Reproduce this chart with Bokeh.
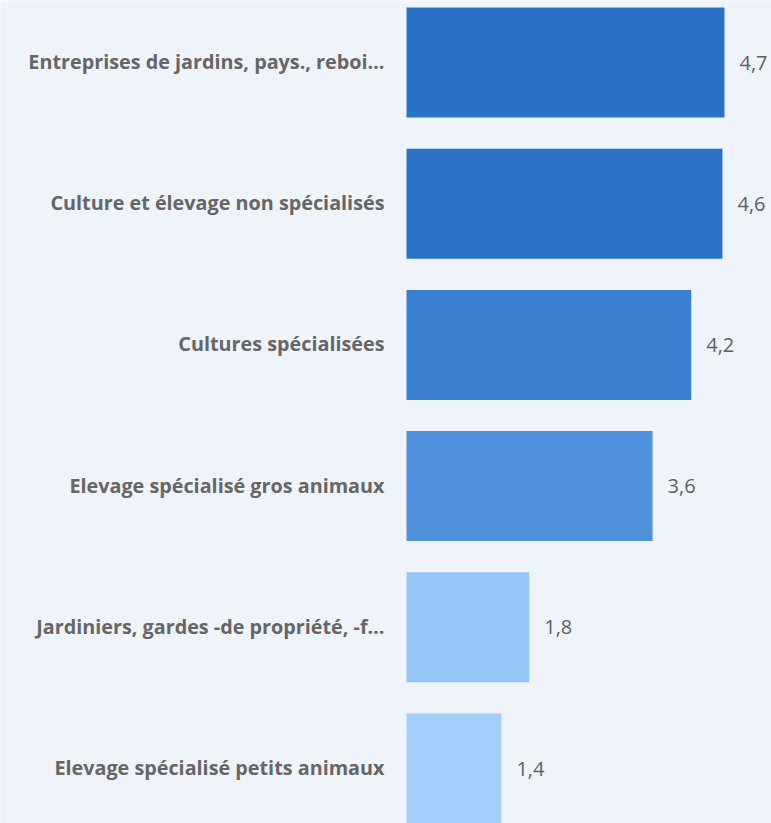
from bokeh.plotting import figure
from bokeh.models import ColumnDataSource, Range1d
from bokeh.core.properties import value
from bokeh.embed import file_html
from bokeh.resources import INLINE

categories = [
    "Entreprises de jardins, pays., reboi…",
    "Culture et élevage non spécialisés",
    "Cultures spécialisées",
    "Elevage spécialisé gros animaux",
    "Jardiniers, gardes -de propriété, -f…",
    "Elevage spécialisé petits animaux",
]
values = [4.69, 4.66, 4.2, 3.63, 1.81, 1.4]
value_labels = ["4,7", "4,6", "4,2", "3,6", "1,8", "1,4"]
colors = ["#2A72C8", "#2B73C9", "#3B80D0", "#4F90DB", "#93C5F6", "#A2D0FD"]

BG = "#EEF4FA"
W, H = 771, 823
PX_PER_UNIT = 67.8
ZERO_X = 406          # frame px of value 0
PITCH = 141.2
FIRST_Y = 62          # frame px of first category center

idx = list(range(len(categories)))
src = ColumnDataSource(dict(y=idx, v=values, c=colors, cat=categories,
                            lab=value_labels, zero=[0] * len(idx)))

x0 = -ZERO_X / PX_PER_UNIT
x1 = (W - ZERO_X) / PX_PER_UNIT
y_top = -FIRST_Y / PITCH
y_bot = (H - FIRST_Y) / PITCH

p = figure(width=W, height=H, output_backend="svg", toolbar_location=None,
           x_range=Range1d(x0, x1), y_range=Range1d(y_bot, y_top),
           min_border=0, min_border_left=0, min_border_right=0,
           min_border_top=0, min_border_bottom=0)
p.axis.visible = False
p.grid.visible = False
p.outline_line_color = None
p.background_fill_color = BG
p.border_fill_color = BG

p.hbar(y="y", left=0, right="v", height=110 / PITCH, fill_color="c",
       line_color=None, source=src)

p.text(x="zero", y="y", text="cat", source=src, x_offset=-22, y_offset=-1,
       text_align="right", text_baseline="middle",
       text_font=value("Open Sans"), text_font_style="bold",
       text_font_size="19.8px", text_color="#666666")

p.text(x="v", y="y", text="lab", source=src, x_offset=15,
       text_align="left", text_baseline="middle",
       text_font=value("Open Sans"), text_font_size="20px",
       text_color="#5F5F5F")

open("out.html", "w").write(file_html(p, INLINE))
